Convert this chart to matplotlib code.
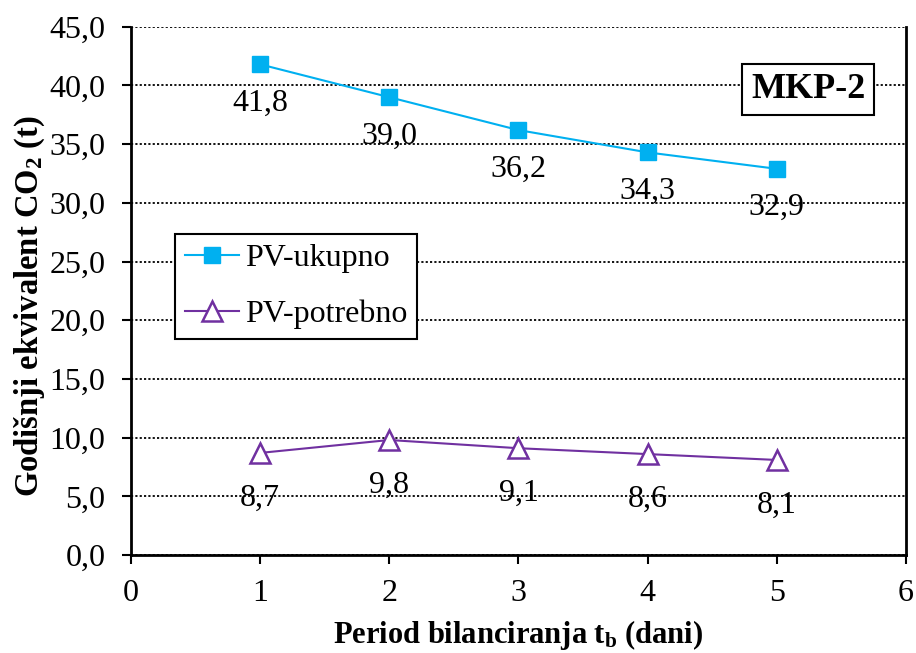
import matplotlib
matplotlib.use("Agg")
import matplotlib.pyplot as plt
from matplotlib.ticker import FuncFormatter, MultipleLocator

plt.rcParams['font.family'] = ['Liberation Serif', 'DejaVu Serif']
plt.rcParams['mathtext.fontset'] = 'custom'
plt.rcParams['mathtext.rm'] = 'Liberation Serif'
plt.rcParams['mathtext.bf'] = 'Liberation Serif:bold'
plt.rcParams['mathtext.it'] = 'Liberation Serif:italic'

periods = [1, 2, 3, 4, 5]
pv_ukupno = [41.8, 39.0, 36.2, 34.3, 32.9]
pv_potrebno = [8.7, 9.8, 9.1, 8.6, 8.1]
series_names = ["PV-ukupno", "PV-potrebno"]

fig = plt.figure(figsize=(9.16, 6.53), dpi=100)
ax = fig.add_axes([0.143, 0.150, 0.846, 0.809])

c1 = '#00B0F0'
c2 = '#7030A0'
ax.plot(periods, pv_ukupno, color=c1, lw=1.5, marker='s', ms=11.5, mfc=c1, mec=c1,
        label=series_names[0], zorder=3)
ax.plot(periods, pv_potrebno, color=c2, lw=1.5, marker='^', ms=14, mfc='white', mec=c2,
        mew=1.8, label=series_names[1], zorder=3)

def fmt(v):
    return f"{v:.1f}".replace('.', ',')

for x, y in zip(periods, pv_ukupno):
    ax.annotate(fmt(y), (x, y), xytext=(0, -39), textcoords='offset pixels',
                ha='center', va='center', fontsize=23, zorder=4)
for x, y in zip(periods, pv_potrebno):
    ax.annotate(fmt(y), (x, y), xytext=(0, -45), textcoords='offset pixels',
                ha='center', va='center', fontsize=23, zorder=4)

ax.set_xlim(0, 6)
ax.set_ylim(0, 45)
ax.xaxis.set_major_locator(MultipleLocator(1))
ax.yaxis.set_major_locator(MultipleLocator(5))
ax.yaxis.set_major_formatter(FuncFormatter(lambda v, p: fmt(v)))
ax.grid(axis='y', color='black', linestyle=(0, (1.2, 1.2)), lw=1.3, zorder=1)
ax.set_axisbelow(True)
ax.spines['top'].set_visible(False)
for s in ['left', 'bottom', 'right']:
    ax.spines[s].set_linewidth(2.0)
ax.tick_params(axis='both', direction='out', length=6.5, width=1.5, labelsize=23)
ax.tick_params(axis='x', pad=11)
ax.tick_params(axis='y', pad=12)

ax.set_xlabel('Period bilanciranja t$_\\mathbf{b}$ (dani)', fontsize=22, fontweight='bold', labelpad=7)
ax.set_ylabel('Godišnji ekvivalent CO$_\\mathbf{2}$ (t)', fontsize=23.5, fontweight='bold')
ax.yaxis.set_label_coords(-0.108, 0.472)

leg = ax.legend(loc='upper left', bbox_to_anchor=(0.057, 0.608), fontsize=23,
                frameon=True, fancybox=False, edgecolor='black', framealpha=1,
                handlelength=1.7, borderpad=0.3, labelspacing=0.85, handletextpad=0.2,
                borderaxespad=0)
leg.get_frame().set_linewidth(1.5)

ax.text(0.874, 0.881, 'MKP-2', transform=ax.transAxes, ha='center', va='center',
        fontsize=26, fontweight='bold',
        bbox=dict(boxstyle='square,pad=0.25', fc='white', ec='black', lw=1.5), zorder=5)

fig.savefig('out.png', dpi=100)
